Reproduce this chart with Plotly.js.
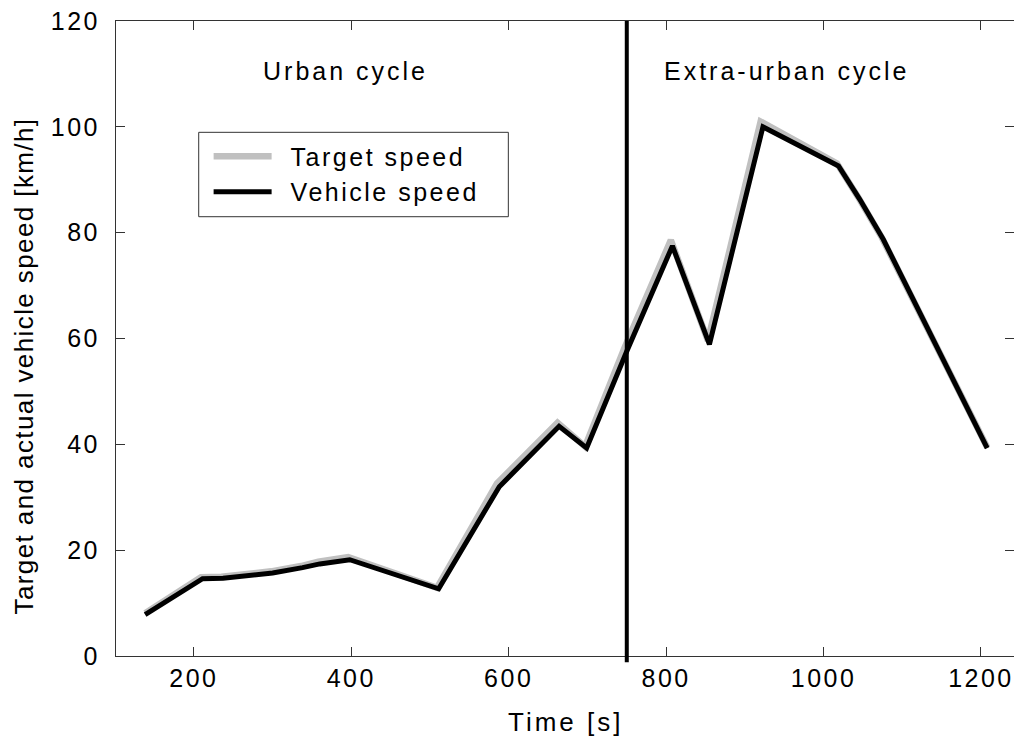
<!DOCTYPE html>
<html>
<head>
<meta charset="utf-8">
<script src="https://cdn.plot.ly/plotly-3.0.1.min.js"></script>
<style>
html, body { margin: 0; padding: 0; background: #fff; }
#chart { width: 1014px; height: 740px; }
text { letter-spacing: 2.5px; }
.annotation-text { letter-spacing: 3px; }
</style>
</head>
<body>
<div id="chart"></div>
<script>
// Vehicle (actual) speed trace
const vehicleTime  = [138, 211, 237, 271, 300, 338, 360, 398, 511, 588, 664, 699, 750, 808, 855, 923, 1019, 1046, 1076, 1208];
const vehicleSpeed = [7.8, 14.6, 14.7, 15.3, 15.7, 16.7, 17.4, 18.2, 12.7, 32.0, 43.4, 39.3, 57.6, 77.5, 58.9, 100.0, 92.6, 86.3, 78.7, 39.3];

// Target speed trace
const targetTime  = [138, 209, 235, 269, 298, 336, 358, 396, 509, 585, 662, 697, 747, 806, 853, 920, 1017, 1044, 1074, 1208];
const targetSpeed = [8.1, 14.9, 15.0, 15.6, 16.0, 17.0, 17.8, 18.7, 12.9, 32.6, 44.1, 39.6, 58.2, 78.6, 59.6, 101.0, 93.1, 86.7, 79.1, 39.4];

// Boundary between the two cycles
const boundaryTime = 750;

// Region labels
const regionLabels = ["Urban cycle", "Extra-urban cycle"];
const regionLabelX = [392, 954];
const regionLabelY = [110.5, 110.5];

const xTicks = [200, 400, 600, 800, 1000, 1200];
const yTicks = [0, 20, 40, 60, 80, 100, 120];

const xTitle = 'Time [s]';
const yTitle = 'Target and actual vehicle speed [km/h]';

const traces = [
  {
    x: targetTime, y: targetSpeed, type: 'scatter', mode: 'lines',
    name: 'Target speed',
    line: { color: '#c0c0c0', width: 6.5 }
  },
  {
    x: vehicleTime, y: vehicleSpeed, type: 'scatter', mode: 'lines',
    name: 'Vehicle speed',
    line: { color: '#000000', width: 5 }
  }
];

const FAM = 'Liberation Sans, Arial, sans-serif';
const tickFont = { family: FAM, size: 25, color: '#000' };
const titleFont = { family: FAM, size: 26, color: '#000' };

const layout = {
  width: 1014, height: 740,
  margin: { l: 116, r: 0, t: 21, b: 84 },
  paper_bgcolor: '#fff', plot_bgcolor: '#fff',
  showlegend: true,
  legend: {
    x: 0.092, y: 0.823, xanchor: 'left', yanchor: 'top',
    bgcolor: 'rgba(0,0,0,0)', borderwidth: 0,
    font: { family: FAM, size: 25, color: '#000' },
    indentation: 52,
    tracegroupgap: 0
  },
  xaxis: {
    range: [101, 1242],
    tickvals: xTicks, ticktext: xTicks.map(String),
    ticks: 'inside', ticklen: 9, tickwidth: 1, tickcolor: '#333',
    showline: true, linecolor: '#333', linewidth: 1, mirror: 'ticks',
    showgrid: false, zeroline: false,
    tickfont: tickFont
  },
  yaxis: {
    range: [0, 120],
    tickvals: yTicks, ticktext: yTicks.map(String),
    ticks: 'inside', ticklen: 9, tickwidth: 1, tickcolor: '#333',
    ticklabelstandoff: 10,
    showline: true, linecolor: '#333', linewidth: 1, mirror: 'ticks',
    showgrid: false, zeroline: false,
    tickfont: tickFont
  },
  shapes: [
    {
      type: 'line', xref: 'x', yref: 'paper',
      x0: boundaryTime, x1: boundaryTime, y0: -0.01, y1: 1,
      line: { color: '#000', width: 4 }
    },
    {
      // legend frame
      type: 'rect', xref: 'paper', yref: 'paper',
      x0: 0.0921, x1: 0.4369, y0: 0.6918, y1: 0.8247,
      fillcolor: '#fff', line: { color: '#333', width: 1 }, layer: 'above'
    }
  ],
  annotations: regionLabels.map((t, i) => ({
    x: regionLabelX[i], y: regionLabelY[i], xref: 'x', yref: 'y',
    text: t, showarrow: false,
    font: { family: FAM, size: 25, color: '#000' }
  })).concat([
    {
      text: xTitle, xref: 'paper', yref: 'paper', x: 0.5, y: -0.104,
      xanchor: 'center', yanchor: 'middle', showarrow: false, font: titleFont
    },
    {
      text: yTitle, xref: 'paper', yref: 'paper', x: -0.1024, y: 0.457,
      xanchor: 'center', yanchor: 'middle', textangle: -90, showarrow: false,
      font: titleFont
    }
  ])
};

Plotly.newPlot('chart', traces, layout, { displayModeBar: false, staticPlot: true }).then(gd => {
  // longer legend line samples, as in the original figure
  gd.querySelectorAll('.legendlines path').forEach(p => p.setAttribute('d', 'M-37,0h58'));
  // tighter spacing for the long vertical title
  gd.querySelectorAll('.annotation-text').forEach(a => {
    if (a.textContent === yTitle) a.style.letterSpacing = '1.4px';
  });
});
</script>
</body>
</html>
